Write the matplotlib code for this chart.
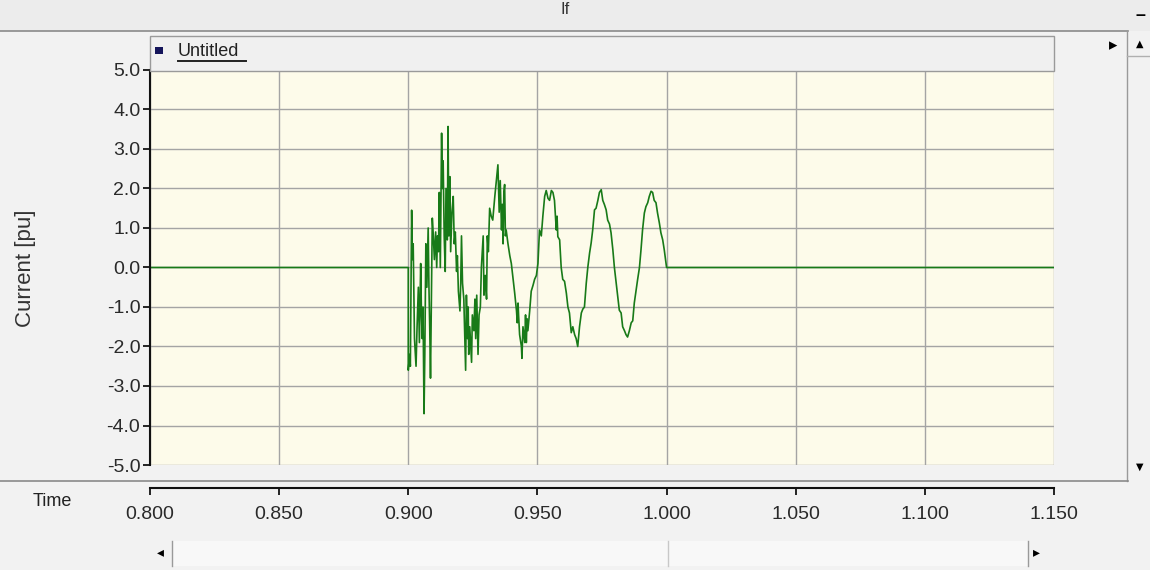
import matplotlib.pyplot as plt
from matplotlib.patches import Rectangle
from matplotlib.lines import Line2D

plt.rcParams.update({'font.size': 13, 'font.family': ['Liberation Sans', 'DejaVu Sans']})

# fault current trace (time in s, current in pu)
time = [0.8000, 0.9000, 0.9000, 0.9005, 0.9008, 0.9013, 0.9016, 0.9019, 0.9024,
        0.9030, 0.9034, 0.9039, 0.9043, 0.9048, 0.9051, 0.9054, 0.9057, 0.9061,
        0.9064, 0.9068, 0.9072, 0.9077, 0.9080, 0.9083, 0.9086, 0.9090, 0.9093,
        0.9097, 0.9101, 0.9106, 0.9110, 0.9113, 0.9117, 0.9120, 0.9124, 0.9129,
        0.9132, 0.9135, 0.9139, 0.9143, 0.9146, 0.9151, 0.9154, 0.9157, 0.9161,
        0.9164, 0.9169, 0.9174, 0.9178, 0.9182, 0.9187, 0.9190, 0.9194, 0.9200,
        0.9203, 0.9206, 0.9210, 0.9215, 0.9222, 0.9225, 0.9229, 0.9232, 0.9234,
        0.9238, 0.9245, 0.9248, 0.9254, 0.9258, 0.9261, 0.9265, 0.9270, 0.9274,
        0.9279, 0.9283, 0.9290, 0.9293, 0.9298, 0.9303, 0.9306, 0.9310, 0.9315,
        0.9321, 0.9327, 0.9335, 0.9341, 0.9347, 0.9352, 0.9356, 0.9361, 0.9364,
        0.9367, 0.9370, 0.9373, 0.9376, 0.9379, 0.9386, 0.9393, 0.9399, 0.9405,
        0.9412, 0.9419, 0.9422, 0.9425, 0.9427, 0.9431, 0.9438, 0.9440, 0.9444,
        0.9451, 0.9454, 0.9457, 0.9460, 0.9463, 0.9470, 0.9476, 0.9483, 0.9489,
        0.9496, 0.9502, 0.9508, 0.9515, 0.9521, 0.9528, 0.9534, 0.9541, 0.9547,
        0.9554, 0.9560, 0.9566, 0.9573, 0.9576, 0.9579, 0.9586, 0.9592, 0.9598,
        0.9605, 0.9612, 0.9618, 0.9624, 0.9631, 0.9637, 0.9644, 0.9650, 0.9656,
        0.9663, 0.9670, 0.9676, 0.9682, 0.9689, 0.9695, 0.9702, 0.9708, 0.9714,
        0.9721, 0.9727, 0.9734, 0.9740, 0.9747, 0.9753, 0.9759, 0.9766, 0.9772,
        0.9779, 0.9785, 0.9792, 0.9798, 0.9805, 0.9811, 0.9817, 0.9824, 0.9830,
        0.9837, 0.9843, 0.9849, 0.9856, 0.9863, 0.9869, 0.9875, 0.9882, 0.9888,
        0.9895, 0.9901, 0.9907, 0.9914, 0.9920, 0.9927, 0.9933, 0.9940, 0.9946,
        0.9952, 0.9959, 0.9965, 0.9972, 0.9978, 0.9985, 0.9991, 1.0000, 1.1500]
current = [0.0, 0.0, -2.6, -2.2, -2.5, 1.45, 0.2, 0.6, -1.8,
           -2.5, -1.5, -0.5, -1.9, 0.1, -1.2, -1.8, -1.0, -3.7,
           -2.2, 0.6, -0.5, 1.0, -0.5, -1.5, -2.8, -0.5, 1.25,
           0.8, 0.2, 0.9, 0.0, 0.8, 0.4, 1.9, 0.0, 3.4,
           2.0, 2.7, 0.8, -0.1, 2.0, 0.7, 3.57, 0.8, 2.3,
           0.4, 1.4, 1.8, 0.6, 0.9, -0.1, 0.3, -0.6, -1.1,
           -0.4, 0.8, -0.4, -0.8, -2.6, -0.7, -1.8, -1.0, -2.2,
           -1.5, -2.4, -1.2, -1.6, -0.8, -1.8, -0.7, -2.2, -1.2,
           -1.0, 0.0, 0.8, -0.7, -0.2, -0.8, 0.8, 0.4, 1.5,
           1.3, 1.2, 1.8, 2.2, 2.6, 1.4, 2.2, 0.95, 1.6,
           0.6, 1.9, 2.1, 0.8, 0.95, 0.6, 0.3, 0.1, -0.25,
           -0.65, -1.1, -1.4, -0.9, -1.2, -1.7, -2.0, -2.3, -1.5,
           -1.9, -1.2, -1.9, -1.3, -1.6, -1.1, -0.6, -0.45, -0.3,
           -0.2, 0.1, 0.95, 0.8, 1.3, 1.8, 1.95, 1.75, 1.7,
           1.95, 1.9, 1.7, 0.95, 1.3, 0.78, 0.7, 0.0, -0.3,
           -0.35, -0.65, -1.0, -1.15, -1.65, -1.5, -1.7, -1.8, -2.0,
           -1.5, -1.15, -1.05, -1.0, -0.4, 0.0, 0.37, 0.62, 0.95,
           1.46, 1.5, 1.7, 1.9, 1.97, 1.7, 1.6, 1.46, 1.2,
           1.1, 0.88, 0.45, 0.0, -0.4, -0.75, -1.08, -1.15, -1.5,
           -1.6, -1.7, -1.76, -1.6, -1.4, -1.35, -0.9, -0.57, -0.3,
           0.0, 0.45, 0.95, 1.38, 1.54, 1.64, 1.8, 1.93, 1.9,
           1.7, 1.64, 1.38, 1.13, 0.88, 0.7, 0.45, 0.0, 0.0]

y_ticks = [5.0, 4.0, 3.0, 2.0, 1.0, 0.0, -1.0, -2.0, -3.0, -4.0, -5.0]
x_ticks = [0.800, 0.850, 0.900, 0.950, 1.000, 1.050, 1.100, 1.150]

W, H = 1150, 570
fig = plt.figure(figsize=(11.5, 5.7), dpi=100, facecolor='#f2f2f2')


def box(x0, y0, x1, y1, **kw):
    # rectangle in screenshot pixel coords (origin top-left)
    fig.patches.append(Rectangle((x0 / W, 1 - y1 / H), (x1 - x0) / W, (y1 - y0) / H,
                                 transform=fig.transFigure, **kw))


def hline(x0, x1, y, **kw):
    fig.add_artist(Line2D([x0 / W, x1 / W], [1 - y / H, 1 - y / H],
                          transform=fig.transFigure, **kw))


def vline(x, y0, y1, **kw):
    fig.add_artist(Line2D([x / W, x / W], [1 - y0 / H, 1 - y1 / H],
                          transform=fig.transFigure, **kw))


# window chrome
box(0, 0, W, 31, facecolor='#ececec', edgecolor='none')
hline(0, 1128, 31, color='#8a8a8a', lw=1.2)
fig.text(565 / W, 1 - 9 / H, 'If', ha='center', va='center', fontsize=12, color='#333333')
fig.text(1140 / W, 1 - 16 / H, '–', ha='center', va='center', fontsize=13, weight='bold')

# legend strip
box(150, 36, 1054, 71, facecolor='#f0f0f0', edgecolor='#9a9a9a', lw=1)
box(155, 47, 163, 54, facecolor='#14145a', edgecolor='none')
fig.text(178 / W, 1 - 52 / H, 'Untitled', ha='left', va='center', fontsize=13, color='#222222')
hline(178, 246, 61, color='#222222', lw=1.4)
fig.text(1113 / W, 1 - 45 / H, '▸', ha='center', va='center', fontsize=12,
         family='DejaVu Sans')

# right scroll bar
vline(1127, 31, 481, color='#9a9a9a', lw=1)
hline(1127, 1150, 56, color='#b0b0b0', lw=1)
fig.text(1140 / W, 1 - 44 / H, '▲', ha='center', va='center', fontsize=7, family='DejaVu Sans')
fig.text(1140 / W, 1 - 467 / H, '▼', ha='center', va='center', fontsize=7, family='DejaVu Sans')

# separator + bottom scroll bar
hline(0, 1128, 481, color='#8a8a8a', lw=1.2)
box(172, 541, 1028, 566, facecolor='#f8f8f8', edgecolor='none')
vline(172, 541, 566, color='#9a9a9a', lw=1)
vline(1028, 541, 566, color='#9a9a9a', lw=1)
vline(668, 541, 566, color='#c8c8c8', lw=1)
fig.text(160 / W, 1 - 552 / H, '◂', ha='center', va='center', fontsize=10, family='DejaVu Sans')
fig.text(1036 / W, 1 - 552 / H, '▸', ha='center', va='center', fontsize=10, family='DejaVu Sans')

# main plot
ax = fig.add_axes([150 / W, 1 - 465 / H, 904 / W, 395 / H])
ax.set_facecolor('#fdfbea')
ax.plot(time, current, color='#187a18', lw=1.2)
ax.set_xlim(0.8, 1.15)
ax.set_ylim(-5, 5)
ax.set_yticks(y_ticks)
ax.set_yticklabels([f'{v:.1f}' for v in y_ticks], fontsize=14, color='#2a2a2a')
ax.set_xticks(x_ticks)
ax.tick_params(axis='x', length=0, labelbottom=False)
ax.tick_params(axis='y', direction='out', length=5, width=1.2, pad=2)
ax.grid(True, color='#a4a4a4', lw=1)
for s in ['top', 'right', 'bottom']:
    ax.spines[s].set_visible(False)
ax.spines['left'].set_color('#111111')
ax.spines['left'].set_linewidth(1.5)
fig.text(26 / W, 1 - 268 / H, 'Current [pu]', rotation=90, ha='center', va='center',
         fontsize=16, color='#333333')

# time axis below
axt = fig.add_axes([150 / W, 1 - 488 / H, 904 / W, 0.0001])
axt.patch.set_visible(False)
axt.set_xlim(0.8, 1.15)
axt.set_yticks([])
axt.set_xticks(x_ticks)
axt.set_xticklabels([f'{v:.3f}' for v in x_ticks], fontsize=14, color='#2a2a2a')
axt.tick_params(axis='x', direction='out', length=5, width=1.2, pad=8)
for s in ['top', 'right', 'left']:
    axt.spines[s].set_visible(False)
axt.spines['bottom'].set_color('#111111')
axt.spines['bottom'].set_linewidth(1.5)
fig.text(52 / W, 1 - 501 / H, 'Time', ha='center', va='center', fontsize=13, color='#222222')

fig.savefig('out.png', dpi=100, facecolor=fig.get_facecolor())
